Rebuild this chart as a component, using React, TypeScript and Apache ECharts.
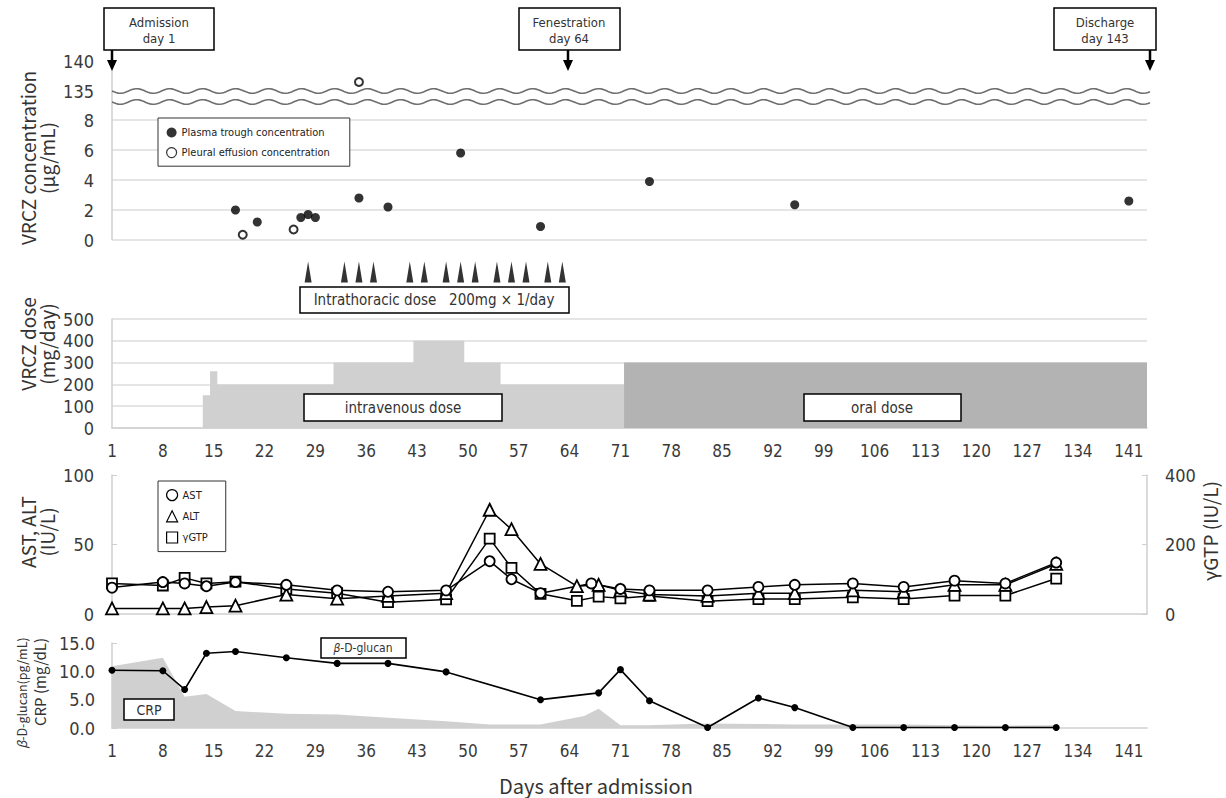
import React, { useEffect, useRef } from 'react';
import * as echarts from 'echarts';

// ---------------- data ----------------
const xTicks = [1, 8, 15, 22, 29, 36, 43, 50, 57, 64, 71, 78, 85, 92, 99, 106, 113, 120, 127, 134, 141];
const dayMin = 1;
const dayMax = 143.5;

const plasmaDays = [18, 21, 27, 28, 29, 35, 39, 49, 60, 75, 95, 141];
const plasmaConc = [2.0, 1.2, 1.5, 1.7, 1.5, 2.8, 2.2, 5.8, 0.9, 3.9, 2.35, 2.6];
const pleuralDays = [19, 26, 35];
const pleuralConc = [0.35, 0.7, 136.5];
const concBreak = 8; // values above this are shown in the upper (broken) segment

const intrathoracicDays = [28, 33, 35, 37, 42, 44, 47, 49, 51, 54, 56, 58, 61, 63];

const ivDoseStart = [14, 15, 16, 32, 43, 50, 55];
const ivDoseMg = [150, 260, 200, 300, 400, 300, 200];
const ivLastDay = 71;
const oralDoseStart = [72];
const oralDoseMg = [300];
const oralLastDay = 143;

const astDays = [1, 8, 11, 14, 18, 25, 32, 39, 47, 53, 56, 60, 67, 71, 75, 83, 90, 95, 103, 110, 117, 124, 131];
const astVals = [19, 23, 22, 20, 23, 21, 17, 16, 17, 38, 25, 15, 22, 18, 17, 17, 19.5, 21, 22, 19.5, 24, 22, 37];
const altDays = [1, 8, 11, 14, 18, 25, 32, 39, 47, 53, 56, 60, 65, 68, 71, 75, 83, 90, 95, 103, 110, 117, 124, 131];
const altVals = [4, 4, 4, 5, 6, 14, 11, 13, 15, 75, 61, 36, 20, 21, 17, 14, 13, 15, 15, 17, 16, 21, 21, 36];
const ggtDays = [1, 8, 11, 14, 18, 25, 32, 39, 47, 53, 56, 60, 65, 68, 71, 75, 83, 90, 95, 103, 110, 117, 124, 131];
const ggtVals = [88, 82, 104, 88, 93, 72, 60, 34, 42, 217, 133, 58, 38, 50, 45, 52, 37, 43, 43, 48, 43, 53, 53, 102];

const glucanDays = [1, 8, 11, 14, 18, 25, 32, 39, 47, 60, 68, 71, 75, 83, 90, 95, 103, 110, 117, 124, 131];
const glucanVals = [10.2, 10.1, 6.8, 13.2, 13.5, 12.4, 11.4, 11.4, 9.9, 5.0, 6.2, 10.3, 4.8, 0.1, 5.3, 3.6, 0.1, 0.1, 0.1, 0.1, 0.1];
const crpDays = [1, 8, 11, 14, 18, 25, 32, 39, 47, 53, 60, 66, 68, 71, 75, 83, 90, 95, 103, 110, 117, 124, 131];
const crpVals = [10.9, 12.4, 5.5, 6.0, 3.0, 2.5, 2.4, 1.8, 1.2, 0.6, 0.6, 2.1, 3.4, 0.5, 0.5, 0.8, 0.7, 0.6, 0.6, 0.6, 0.5, 0.4, 0.5];

// ---------------- style ----------------
const NARROW = "'Liberation Sans Narrow', 'Arial Narrow', 'DejaVu Sans Condensed', 'Roboto Condensed', sans-serif";
const SANS = "'Noto Sans CJK JP', 'Noto Sans', sans-serif";
const AXIS_GRAY = '#cfcfcf';
const GRID_GRAY = '#dcdcdc';
const LABEL = '#3a3a3a';

const zip = (xs: number[], ys: number[]) => xs.map((x, i) => [x, ys[i]]);
const stepData = (starts: number[], mg: number[], last: number) =>
  starts.map((d, i) => [d - 0.5, mg[i]]).concat([[last + 0.5, 0]]);

function buildOption() {
  const L = 112;
  const R = 1226 - 1147;
  const grids = [
    { top: 61, height: 30 },
    { top: 120, height: 120 },
    { top: 262, height: 20 },
    { top: 319, height: 109 },
    { top: 475, height: 139 },
    { top: 643, height: 85 },
  ].map((g) => ({ left: L, right: R, ...g, containLabel: false, outerBoundsMode: 'none' }));

  const xLabel = {
    show: true,
    customValues: xTicks,
    fontSize: 17,
    fontFamily: NARROW,
    color: LABEL,
    margin: 14,
  };
  const xAxes = grids.map((_, gi) => ({
    type: 'value',
    gridIndex: gi,
    min: dayMin,
    max: dayMax,
    axisLine: { show: gi >= 3, lineStyle: { color: AXIS_GRAY, width: 1.5 } },
    axisTick: { show: false },
    splitLine: { show: false },
    axisLabel: gi === 3 || gi === 5 ? xLabel : { show: false },
  }));

  const yLabel = (extra: any = {}) => ({
    fontSize: 18,
    fontFamily: NARROW,
    color: LABEL,
    margin: 18,
    ...extra,
  });
  const yAxes: any[] = [
    {
      type: 'value', gridIndex: 0, min: 135, max: 140, interval: 5,
      axisLine: { show: false }, axisTick: { show: false }, splitLine: { show: false },
      axisLabel: yLabel(),
    },
    {
      type: 'value', gridIndex: 1, min: 0, max: 8, interval: 2,
      axisLine: { show: false }, axisTick: { show: false },
      splitLine: { show: true, lineStyle: { color: GRID_GRAY, width: 1.5 } },
      axisLabel: yLabel(),
    },
    { type: 'value', gridIndex: 2, min: 0, max: 1, show: false },
    {
      type: 'value', gridIndex: 3, min: 0, max: 500, interval: 100,
      axisLine: { show: true, lineStyle: { color: AXIS_GRAY, width: 1.5 } }, axisTick: { show: false },
      splitLine: { show: true, lineStyle: { color: GRID_GRAY, width: 1.5 } },
      axisLabel: yLabel(),
    },
    {
      type: 'value', gridIndex: 4, min: 0, max: 100, interval: 50,
      axisLine: { show: true, lineStyle: { color: AXIS_GRAY, width: 1.5 } },
      axisTick: { show: true, inside: true, length: 5, lineStyle: { color: AXIS_GRAY } },
      splitLine: { show: false },
      axisLabel: yLabel(),
    },
    {
      type: 'value', gridIndex: 4, position: 'right', min: 0, max: 400, interval: 200,
      axisLine: { show: true, lineStyle: { color: AXIS_GRAY, width: 1.5 } },
      axisTick: { show: true, inside: true, length: 5, lineStyle: { color: AXIS_GRAY } },
      splitLine: { show: false },
      axisLabel: yLabel(),
    },
    {
      type: 'value', gridIndex: 5, min: 0, max: 15, interval: 5,
      axisLine: { show: true, lineStyle: { color: AXIS_GRAY, width: 1.5 } },
      axisTick: { show: true, inside: true, length: 5, lineStyle: { color: AXIS_GRAY } },
      splitLine: { show: false },
      axisLabel: yLabel({ formatter: (v: number) => v.toFixed(1), margin: 17 }),
    },
  ];

  const plasma = zip(plasmaDays, plasmaConc);
  const pleural = zip(pleuralDays, pleuralConc);
  const filled = { color: '#000' };
  const open = { color: '#fff', borderColor: '#000', borderWidth: 1.8 };
  const noEmph = { disabled: true };

  const series: any[] = [
    { name: 'Plasma trough concentration', type: 'scatter', xAxisIndex: 1, yAxisIndex: 1, symbol: 'circle', symbolSize: 9, itemStyle: filled, emphasis: noEmph, data: plasma.filter((p) => p[1] <= concBreak) },
    { name: 'Plasma trough concentration', type: 'scatter', xAxisIndex: 0, yAxisIndex: 0, symbol: 'circle', symbolSize: 9, itemStyle: filled, emphasis: noEmph, data: plasma.filter((p) => p[1] > concBreak) },
    { name: 'Pleural effusion concentration', type: 'scatter', xAxisIndex: 1, yAxisIndex: 1, symbol: 'circle', symbolSize: 8, itemStyle: { ...open, borderWidth: 2 }, emphasis: noEmph, data: pleural.filter((p) => p[1] <= concBreak) },
    { name: 'Pleural effusion concentration', type: 'scatter', xAxisIndex: 0, yAxisIndex: 0, symbol: 'circle', symbolSize: 8, itemStyle: { ...open, borderWidth: 2 }, emphasis: noEmph, data: pleural.filter((p) => p[1] > concBreak) },
    { name: 'Intrathoracic dose', type: 'scatter', xAxisIndex: 2, yAxisIndex: 2, symbol: 'triangle', symbolSize: [7, 21], itemStyle: filled, emphasis: noEmph, data: intrathoracicDays.map((d) => [d, 0.5]) },
    { name: 'intravenous dose', type: 'line', xAxisIndex: 3, yAxisIndex: 3, step: 'end', symbol: 'none', lineStyle: { width: 0 }, areaStyle: { color: '#d0d0d0', opacity: 1 }, emphasis: noEmph, data: stepData(ivDoseStart, ivDoseMg, ivLastDay) },
    { name: 'oral dose', type: 'line', xAxisIndex: 3, yAxisIndex: 3, step: 'end', symbol: 'none', lineStyle: { width: 0 }, areaStyle: { color: '#b3b3b3', opacity: 1 }, emphasis: noEmph, data: stepData(oralDoseStart, oralDoseMg, oralLastDay) },
    { name: 'γGTP', type: 'line', xAxisIndex: 4, yAxisIndex: 5, symbol: 'rect', symbolSize: 10, lineStyle: { color: '#000', width: 1.5 }, itemStyle: open, emphasis: noEmph, data: zip(ggtDays, ggtVals) },
    { name: 'ALT', type: 'line', xAxisIndex: 4, yAxisIndex: 4, symbol: 'triangle', symbolSize: 12, lineStyle: { color: '#000', width: 1.5 }, itemStyle: open, emphasis: noEmph, data: zip(altDays, altVals) },
    { name: 'AST', type: 'line', xAxisIndex: 4, yAxisIndex: 4, symbol: 'circle', symbolSize: 10, lineStyle: { color: '#000', width: 1.5 }, itemStyle: open, emphasis: noEmph, data: zip(astDays, astVals) },
    { name: 'CRP', type: 'line', xAxisIndex: 5, yAxisIndex: 6, symbol: 'none', lineStyle: { width: 0 }, areaStyle: { color: '#d0d0d0', opacity: 1 }, emphasis: noEmph, data: zip(crpDays, crpVals) },
    { name: 'β-D-glucan', type: 'line', xAxisIndex: 5, yAxisIndex: 6, symbol: 'circle', symbolSize: 7, lineStyle: { color: '#000', width: 1.6 }, itemStyle: filled, emphasis: noEmph, data: zip(glucanDays, glucanVals) },
  ];

  // ------------- annotation graphics -------------
  const g: any[] = [];
  const box = (x: number, y: number, w: number, h: number, lw = 1.5) =>
    g.push({ type: 'rect', shape: { x, y, width: w, height: h }, style: { fill: '#fff', stroke: '#000', lineWidth: lw }, z: 20 });
  const text = (x: number, y: number, t: string, size: number, font = NARROW) =>
    g.push({
      type: 'text', x, y, z: 21,
      style: { text: t, fontSize: size, fontFamily: font, fill: '#333', align: 'center', verticalAlign: 'middle', textAlign: 'center', textVerticalAlign: 'middle' },
    });
  const arrow = (x: number) => {
    g.push({ type: 'line', shape: { x1: x, y1: 50, x2: x, y2: 62 }, style: { stroke: '#000', lineWidth: 2.5 }, z: 20 });
    g.push({ type: 'polygon', shape: { points: [[x - 5, 60], [x + 5, 60], [x, 71]] }, style: { fill: '#000' }, z: 20 });
  };

  // vertical axis line of the broken concentration axis
  g.push({ type: 'line', shape: { x1: 112, y1: 70, x2: 112, y2: 240 }, style: { stroke: AXIS_GRAY, lineWidth: 1.5 }, z: 1 });
  // break (wavy) lines
  for (const y0 of [91, 102]) {
    const pts: number[][] = [];
    for (let x = 112; x <= 1150; x += 2) pts.push([x, y0 + 2.3 * Math.sin(((x - 112) / 33) * 2 * Math.PI)]);
    g.push({ type: 'polyline', shape: { points: pts }, style: { stroke: '#6e6e6e', lineWidth: 1.6, fill: null }, z: 5 });
  }

  // event boxes
  box(104, 8, 110, 42); text(159, 22, 'Admission', 13); text(159, 38, 'day 1', 13); arrow(112);
  box(519, 8, 101, 42); text(569, 22, 'Fenestration', 13); text(569, 38, 'day 64', 13); arrow(568);
  box(1054, 8, 102, 42); text(1105, 22, 'Discharge', 13); text(1105, 38, 'day 143', 13); arrow(1150);

  // dose panel labels
  box(300, 287, 269, 26); text(434, 300, 'Intrathoracic dose   200mg × 1/day', 15);
  box(304, 394, 198, 27); text(403, 407.5, 'intravenous dose', 15);
  box(804, 394, 157, 27); text(882, 407.5, 'oral dose', 15);

  // bottom panel labels
  box(321, 638, 85, 20, 1.5);
  g.push({
    type: 'text', x: 363, y: 648, z: 21,
    style: {
      text: '{i|β}-D-glucan', fontSize: 12, fontFamily: NARROW, fill: '#333', align: 'center', verticalAlign: 'middle', textAlign: 'center', textVerticalAlign: 'middle',
      rich: { i: { fontStyle: 'italic', fontSize: 12, fontFamily: NARROW, fill: '#333' } },
    },
  });
  box(124, 699, 50, 21, 1.5); text(149, 710, 'CRP', 14);

  // axis titles
  const rot = (x: number, y: number, t: string, size: number, rich?: any) =>
    g.push({
      type: 'text', x, y, rotation: Math.PI / 2, z: 21,
      style: { text: t, fontSize: size, fontFamily: SANS, fill: '#333', align: 'center', verticalAlign: 'middle', textAlign: 'center', textVerticalAlign: 'middle', ...(rich ? { rich } : {}) },
    });
  rot(27, 158, 'VRCZ concentration', 19);
  rot(46, 158, '(μg/mL)', 19);
  rot(27, 344, 'VRCZ dose', 19);
  rot(46, 344, '(mg/day)', 19);
  rot(27, 532, 'AST, ALT', 19);
  rot(46, 532, '(IU/L)', 19);
  rot(1209, 531, 'γGTP (IU/L)', 19);
  rot(21, 693, '{i|β}-D-glucan(pg/mL)', 12.5, { i: { fontStyle: 'italic', fontSize: 12.5, fontFamily: SANS, fill: '#333' } });
  rot(39, 682, 'CRP (mg/dL)', 15);
  text(596, 785, 'Days after admission', 20, SANS);

  const legendBase = {
    orient: 'vertical',
    borderColor: '#333',
    borderWidth: 1,
    backgroundColor: '#fff',
    selectedMode: false,
    textStyle: { fontFamily: NARROW, fontSize: 11, color: '#222' },
    z: 22,
  };
  const legends = [
    {
      ...legendBase,
      left: 158, top: 118,
      padding: [9, 20, 8, 8],
      itemGap: 9, itemWidth: 10, itemHeight: 10,
      data: [
        { name: 'Plasma trough concentration', icon: 'circle', itemStyle: { color: '#000', borderWidth: 0 } },
        { name: 'Pleural effusion concentration', icon: 'circle', itemStyle: { color: '#fff', borderColor: '#000', borderWidth: 1.2 } },
      ],
    },
    {
      ...legendBase,
      left: 158, top: 481,
      padding: [8, 18, 8, 8],
      itemGap: 9, itemWidth: 11, itemHeight: 11,
      data: [
        { name: 'AST', icon: 'circle', itemStyle: { color: '#fff', borderColor: '#000', borderWidth: 1.2 } },
        { name: 'ALT', icon: 'triangle', itemStyle: { color: '#fff', borderColor: '#000', borderWidth: 1.2 } },
        { name: 'γGTP', icon: 'rect', itemStyle: { color: '#fff', borderColor: '#000', borderWidth: 1.2 } },
      ],
    },
  ];

  return {
    animation: false,
    backgroundColor: '#fff',
    textStyle: { fontFamily: NARROW },
    grid: grids,
    xAxis: xAxes,
    yAxis: yAxes,
    legend: legends,
    series,
    graphic: { elements: g },
  };
}

export default function App() {
  const ref = useRef<HTMLDivElement>(null);
  useEffect(() => {
    if (!ref.current) return;
    const chart = echarts.init(ref.current, undefined, { renderer: 'svg' });
    chart.setOption(buildOption() as any);
    return () => chart.dispose();
  }, []);
  return <div ref={ref} style={{ position: 'absolute', left: 0, top: 0, width: 1226, height: 798, background: '#fff' }} />;
}
